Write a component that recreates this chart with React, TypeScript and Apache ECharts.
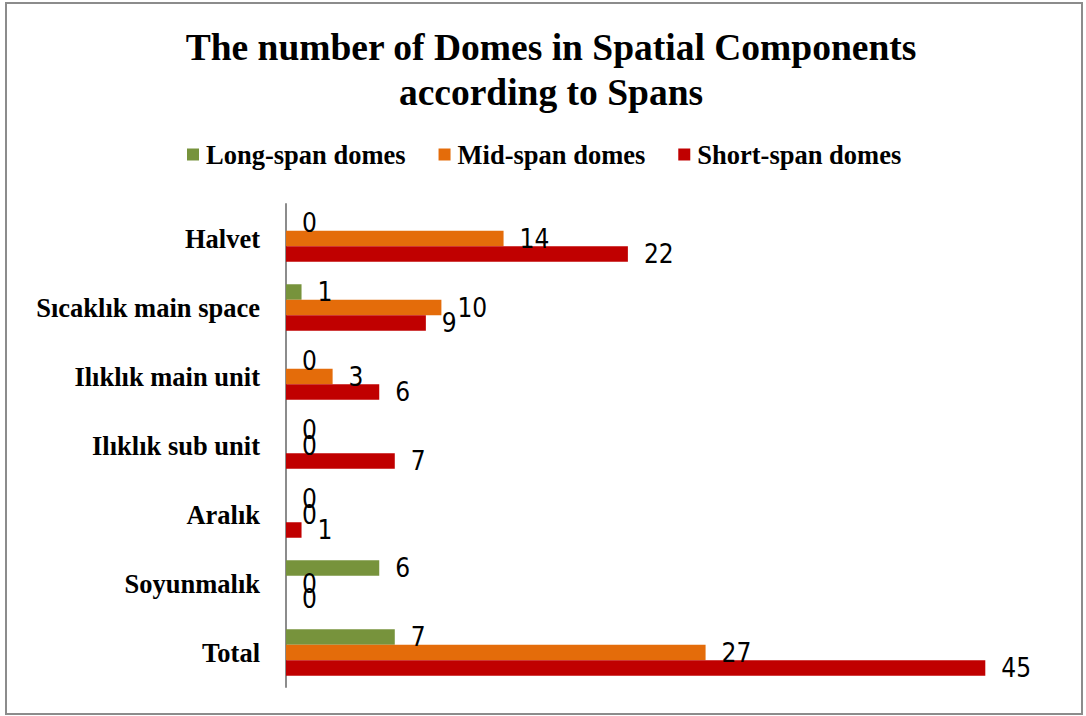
import React, { useEffect, useRef } from "react";
import * as echarts from "echarts";

const categories = [
  "Halvet",
  "Sıcaklık main space",
  "Ilıklık main unit",
  "Ilıklık sub unit",
  "Aralık",
  "Soyunmalık",
  "Total",
];
const longSpan = [0, 1, 0, 0, 0, 6, 7];
const midSpan = [14, 10, 3, 0, 0, 0, 27];
const shortSpan = [22, 9, 6, 7, 1, 0, 45];
const seriesNames = ["Long-span domes", "Mid-span domes", "Short-span domes"];
const colors = ["#77933C", "#E46C0A", "#C00000"];

const SERIF = "'Liberation Serif', 'Times New Roman', serif";
const NARROW = "'Liberation Sans Narrow', 'DejaVu Sans Condensed', sans-serif";

export default function App() {
  const ref = useRef<HTMLDivElement>(null);
  useEffect(() => {
    if (!ref.current) return;
    const chart = echarts.init(ref.current, undefined, { renderer: "svg" });
    const values = [longSpan, midSpan, shortSpan];
    chart.setOption({
      animation: false,
      backgroundColor: "#ffffff",
      title: {
        text: "The number of Domes in Spatial Components\naccording to Spans",
        left: 546,
        top: 20,
        textAlign: "center",
        textStyle: {
          fontFamily: SERIF,
          fontWeight: "bold",
          fontSize: 37.5,
          lineHeight: 45,
          color: "#000",
        },
      },
      legend: {
        left: 182,
        top: 136,
        icon: "rect",
        itemWidth: 12,
        itemHeight: 12,
        itemGap: 33,
        data: seriesNames,
        textStyle: {
          fontFamily: SERIF,
          fontWeight: "bold",
          fontSize: 26.5,
          color: "#000",
          padding: [0, 0, 0, 2],
        },
      },
      graphic: [
        {
          type: "rect",
          shape: { x: 6, y: 3, width: 1076, height: 711 },
          style: { fill: "none", stroke: "#8c8c8c", lineWidth: 2 },
          silent: true,
        },
      ],
      grid: { left: 286, right: 23, top: 204, bottom: 29, containLabel: false },
      xAxis: {
        type: "value",
        min: 0,
        max: 50,
        interval: 10,
        axisLine: { show: false },
        axisTick: { show: false },
        axisLabel: { show: false },
        splitLine: { show: false },
      },
      yAxis: {
        type: "category",
        inverse: true,
        data: categories,
        axisLine: { show: true, lineStyle: { color: "#8c8c8c", width: 2 } },
        axisTick: { show: false },
        axisLabel: {
          margin: 26,
          fontFamily: SERIF,
          fontWeight: "bold",
          fontSize: 26.5,
          color: "#000",
        },
      },
      series: seriesNames.map((name, i) => ({
        name,
        type: "bar",
        data: values[i],
        barWidth: 15.5,
        barGap: "0%",
        itemStyle: { color: colors[i] },
        label: {
          show: true,
          position: "right",
          distance: 16,
          fontFamily: NARROW,
          fontSize: 26,
          color: "#000",
        },
      })),
    });
    return () => chart.dispose();
  }, []);
  return (
    <div
      ref={ref}
      style={{ position: "fixed", left: 0, top: 0, width: 1086, height: 716 }}
    />
  );
}
